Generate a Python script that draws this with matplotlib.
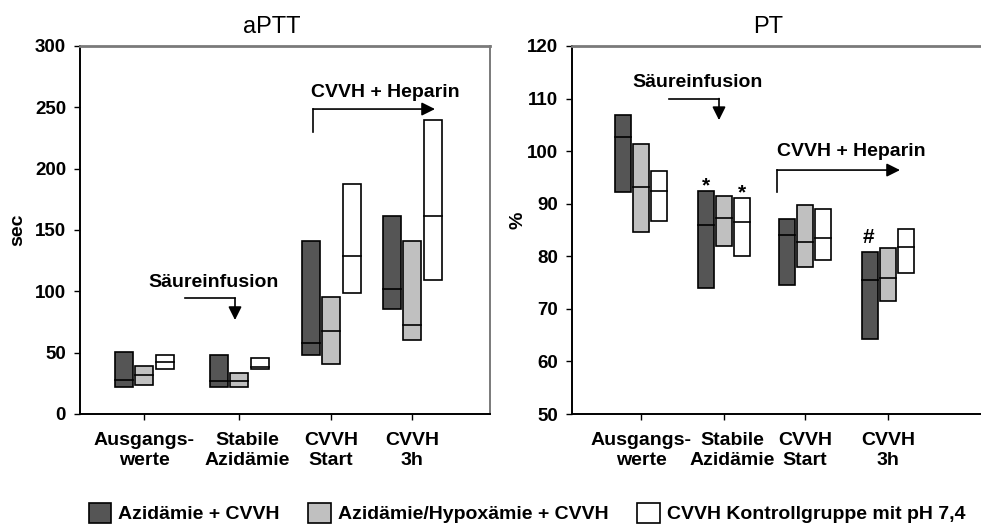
import matplotlib
matplotlib.use("Agg")
import matplotlib.pyplot as plt
from matplotlib.patches import Patch
from matplotlib.transforms import ScaledTranslation

plt.rcParams["font.family"] = ["Liberation Sans", "DejaVu Sans"]
plt.rcParams["font.weight"] = "bold"

# Zeitpunkte
timepoints = ["Ausgangs-\nwerte", "Stabile\nAzidämie", "CVVH\nStart", "CVVH\n3h"]
series_labels = ["Azidämie + CVVH", "Azidämie/Hypoxämie + CVVH", "CVVH Kontrollgruppe mit pH 7,4"]
series_colors = ["#555555", "#c0c0c0", "#ffffff"]

# aPTT (sec): untere Grenze, Median, obere Grenze
aptt_azid_low = [22, 22, 47.7, 86]
aptt_azid_med = [27.9, 26.9, 57.8, 101.7]
aptt_azid_high = [50.2, 48, 141, 161.6]
aptt_hypox_low = [23.3, 22, 40.7, 60]
aptt_hypox_med = [31.7, 27.1, 67.8, 72.4]
aptt_hypox_high = [39.3, 33.4, 95.5, 141]
aptt_ctrl_low = [36.6, 36.6, 99, 109.3]
aptt_ctrl_med = [42.6, 38, 128.6, 161.6]
aptt_ctrl_high = [48, 45.3, 187.4, 240]

# PT (%)
pt_azid_low = [92.3, 74.0, 74.6, 64.3]
pt_azid_med = [102.6, 86.0, 84.0, 75.4]
pt_azid_high = [106.8, 92.5, 87.1, 80.9]
pt_hypox_low = [84.6, 82.0, 78.0, 71.5]
pt_hypox_med = [93.2, 87.2, 82.7, 75.8]
pt_hypox_high = [101.4, 91.5, 89.75, 81.5]
pt_ctrl_low = [86.8, 80.0, 79.2, 76.9]
pt_ctrl_med = [92.5, 86.6, 83.5, 81.8]
pt_ctrl_high = [96.3, 91.1, 88.9, 85.1]

aptt_series = [
    (aptt_azid_low, aptt_azid_med, aptt_azid_high),
    (aptt_hypox_low, aptt_hypox_med, aptt_hypox_high),
    (aptt_ctrl_low, aptt_ctrl_med, aptt_ctrl_high),
]
pt_series = [
    (pt_azid_low, pt_azid_med, pt_azid_high),
    (pt_hypox_low, pt_hypox_med, pt_hypox_high),
    (pt_ctrl_low, pt_ctrl_med, pt_ctrl_high),
]

fig = plt.figure(figsize=(9.81, 5.30), dpi=100)
ax1 = fig.add_axes([80 / 981, 1 - 414 / 530, 410 / 981, 368 / 530])
ax2 = fig.add_axes([572 / 981, 1 - 414 / 530, 418 / 981, 368 / 530])


def draw_boxes(ax, series, centers, offset, width):
    for i, (low, med, high) in enumerate(series):
        xs = [c + (i - 1) * offset for c in centers]
        heights = [h - l for l, h in zip(low, high)]
        ax.bar(xs, heights, width=width, bottom=low, color=series_colors[i],
               edgecolor="black", linewidth=1.2, zorder=2)
        for x, m in zip(xs, med):
            ax.plot([x - width / 2, x + width / 2], [m, m], color="black", lw=1.2, zorder=3)


def style_axes(ax, right_spine=True):
    for s in ["left", "bottom"]:
        ax.spines[s].set_color("black")
        ax.spines[s].set_linewidth(1.4)
    ax.spines["top"].set_color("#7a7a7a")
    ax.spines["top"].set_linewidth(2)
    ax.spines["right"].set_color("#7a7a7a")
    ax.spines["right"].set_linewidth(1.4)
    ax.spines["right"].set_visible(right_spine)
    ax.tick_params(axis="y", direction="out", length=4, width=1, labelsize=13.5, pad=6)
    ax.tick_params(axis="x", direction="out", length=4, width=1, labelsize=14, pad=9)
    # "Stabile Azidämie" sits a little right of its tick in the original
    lab = ax.get_xticklabels()[1]
    lab.set_transform(lab.get_transform() + ScaledTranslation(0.08, 0, fig.dpi_scale_trans))


def bent_arrow(ax, pts):
    xs = [p[0] for p in pts[:-1]]
    ys = [p[1] for p in pts[:-1]]
    ax.plot(xs, ys, color="black", lw=1.2)
    ax.annotate("", xy=pts[-1], xytext=pts[-2],
                arrowprops=dict(arrowstyle="-|>", color="black", lw=1.2,
                                mutation_scale=20, shrinkA=0, shrinkB=0))


# aPTT
centers1 = [0.64, 1.59, 2.51, 3.32]
draw_boxes(ax1, aptt_series, centers1, 0.205, 0.18)
ax1.set_xlim(0, 4.10)
ax1.set_ylim(0, 300)
ax1.set_yticks(range(0, 301, 50))
ax1.set_xticks(centers1)
ax1.set_xticklabels(timepoints)
style_axes(ax1)
ax1.text(1.335, 106.8, "Säureinfusion", ha="center", va="center", fontsize=14)
bent_arrow(ax1, [(1.05, 94.5), (1.55, 94.5), (1.55, 76.6)])
ax1.text(3.055, 262, "CVVH + Heparin", ha="center", va="center", fontsize=14)
bent_arrow(ax1, [(2.33, 230), (2.33, 248.6), (3.55, 248.6)])

# PT
centers2 = [0.69, 1.52, 2.33, 3.16]
draw_boxes(ax2, pt_series, centers2, 0.18, 0.155)
ax2.set_xlim(0, 4.18)
ax2.set_ylim(50, 120)
ax2.set_yticks(range(50, 121, 10))
ax2.set_xticks(centers2)
ax2.set_xticklabels(timepoints)
style_axes(ax2, right_spine=False)
ax2.text(1.255, 113.0, "Säureinfusion", ha="center", va="center", fontsize=14)
bent_arrow(ax2, [(0.97, 110), (1.47, 110), (1.47, 105.9)])
ax2.text(2.795, 100, "CVVH + Heparin", ha="center", va="center", fontsize=14)
bent_arrow(ax2, [(2.05, 92.2), (2.05, 96.4), (3.28, 96.4)])
ax2.text(1.34, 92.3, "*", ha="center", va="baseline", fontsize=15)
ax2.text(1.70, 91.1, "*", ha="center", va="baseline", fontsize=15)
ax2.text(2.96, 82.6, "#", ha="center", va="baseline", fontsize=15)

fig.text(272 / 981, 1 - 27 / 530, "aPTT", ha="center", va="center", fontsize=17, fontweight="normal")
fig.text(768 / 981, 1 - 27 / 530, "PT", ha="center", va="center", fontsize=17, fontweight="normal")
fig.text(18 / 981, 1 - 230 / 530, "sec", rotation=90, ha="center", va="center", fontsize=14)
fig.text(518 / 981, 1 - 220 / 530, "%", rotation=90, ha="center", va="center", fontsize=14)

handles = [Patch(facecolor=c, edgecolor="black", linewidth=1.2) for c in series_colors]
fig.legend(handles, series_labels, loc="lower center", bbox_to_anchor=(0.537, -0.02),
           ncol=3, frameon=False, fontsize=14, handlelength=1.15, handleheight=1.2,
           handletextpad=0.35, columnspacing=1.5)

fig.savefig("out.png", dpi=100)
